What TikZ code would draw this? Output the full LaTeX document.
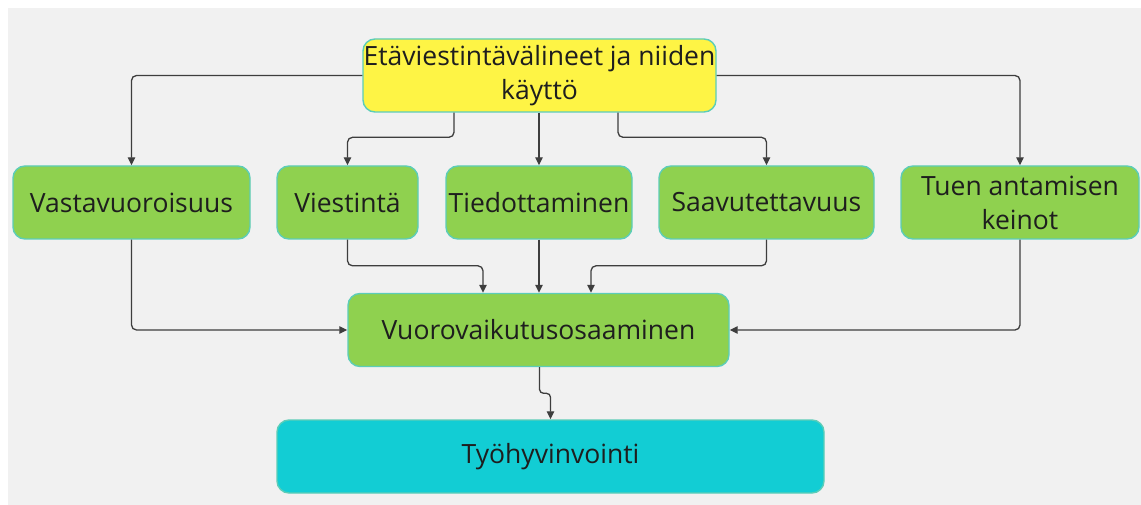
\documentclass[tikz,border=0pt]{standalone}
\usepackage{fontspec}
\setmainfont{Open Sans}
\usetikzlibrary{arrows.meta}

\definecolor{canvasgray}{HTML}{F1F1F1}
\definecolor{boxgreen}{HTML}{8FD14F}
\definecolor{boxyellow}{HTML}{FEF445}
\definecolor{boxcyan}{HTML}{12CDD4}
\definecolor{boxrim}{HTML}{5CCDB8}
\definecolor{inkdark}{HTML}{1E1E1E}
\definecolor{linkgray}{HTML}{3E3E3E}

\tikzset{
  box/.style={rectangle, rounded corners=12pt, draw=boxrim, line width=1.4pt,
    align=center, text=inkdark, minimum height=73pt, inner sep=0pt,
    font=\fontsize{26.5}{34}\selectfont},
  greenbox/.style={box, fill=boxgreen},
  conn/.style={draw=linkgray, line width=1.3pt, rounded corners=5pt,
    -{Triangle[length=8pt,width=7.5pt]}}
}

\begin{document}
\begin{tikzpicture}[x=1pt,y=-1pt]
  % page frame and canvas
  \useasboundingbox (0,0) rectangle (1141,505);
  \fill[white] (0,0) rectangle (1141,505);
  \fill[canvasgray] (8,8) rectangle (1141,505);

  % nodes
  \node[box, fill=boxyellow, minimum width=353pt] (top) at (539.5,75.5)
    {Etäviestintävälineet ja niiden\\käyttö};
  \node[greenbox, minimum width=237pt] (vasta) at (131.5,202.5) {Vastavuoroisuus};
  \node[greenbox, minimum width=141pt] (viest) at (347.5,202.5) {Viestintä};
  \node[greenbox, minimum width=186pt] (tied) at (539,202.5) {Tiedottaminen};
  \node[greenbox, minimum width=215pt] (saav) at (766.5,202.5) {Saavutettavuus};
  \node[greenbox, minimum width=238pt] (tuen) at (1020,202.5) {Tuen antamisen\\keinot};
  \node[greenbox, minimum width=381pt] (vuoro) at (538.5,330) {Vuorovaikutusosaaminen};
  \node[box, fill=boxcyan, minimum width=547pt] (tyo) at (550.5,456.5) {Työhyvinvointi};

  % connectors from the top box
  \draw[conn] (top.west) -| (vasta.north);
  \draw[conn] ([xshift=-85.5pt]top.south) |- ([yshift=28pt]viest.north) -- (viest.north);
  \draw[conn] (top.south -| tied.north) -- (tied.north);
  \draw[conn] ([xshift=78.5pt]top.south) |- ([yshift=28pt]saav.north) -- (saav.north);
  \draw[conn] (top.east) -| (tuen.north);

  % connectors into the combining box
  \draw[conn] (vasta.south) |- (vuoro.west);
  \draw[conn] (viest.south) |- ([xshift=-55.5pt,yshift=27pt]vuoro.north) -- ([xshift=-55.5pt]vuoro.north);
  \draw[conn] (tied.south) -- (tied.south |- vuoro.north);
  \draw[conn] (saav.south) |- ([xshift=52.5pt,yshift=27pt]vuoro.north) -- ([xshift=52.5pt]vuoro.north);
  \draw[conn] (tuen.south) |- (vuoro.east);

  % final link
  \draw[conn, rounded corners=4pt] ([xshift=1pt]vuoro.south) |- ([yshift=26pt]tyo.north) -- (tyo.north);
\end{tikzpicture}
\end{document}
